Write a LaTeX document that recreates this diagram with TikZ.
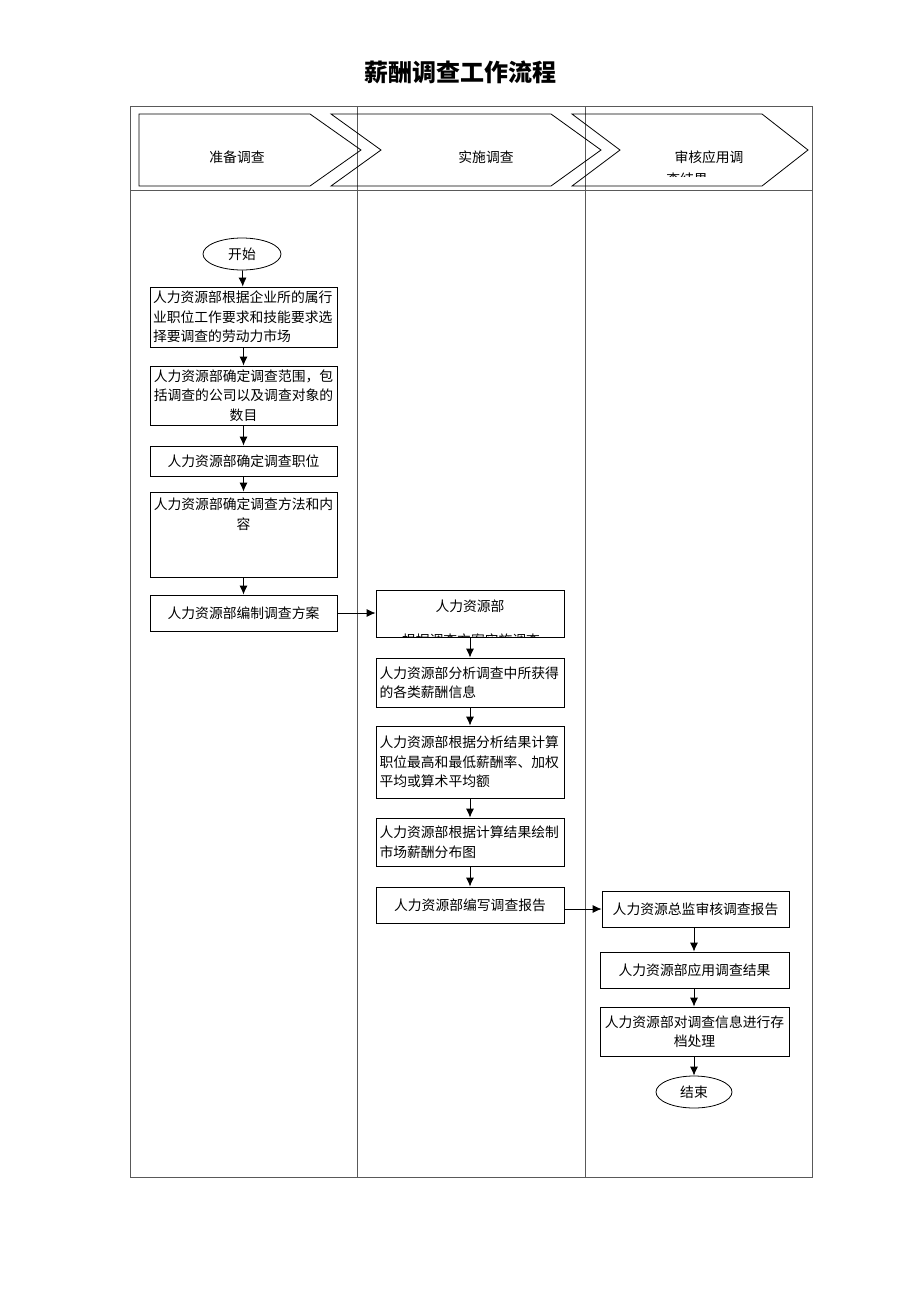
\documentclass[tikz,border=0pt]{standalone}
\usepackage{fontspec}
\setmainfont{Noto Sans CJK SC}
\usetikzlibrary{arrows.meta,shapes.geometric}
\begin{document}
\begin{tikzpicture}[x=1pt,y=-1pt,
  frame/.style={draw=black!65,line width=0.8pt},
  chev/.style={draw=black,line width=0.8pt},
  txt/.style={font=\fontsize{13.8}{19.5}\selectfont,inner sep=0pt},
  box/.style={draw=black,line width=0.8pt,minimum width=187pt,inner sep=3pt,text width=181pt,
    font=\fontsize{13.8}{19.5}\selectfont,align=left},
  cbox/.style={box,align=center},
  term/.style={draw=black,line width=0.8pt,ellipse,minimum width=78pt,minimum height=32pt,inner sep=0pt,
    font=\fontsize{13.8}{19.5}\selectfont},
  arr/.style={draw=black,line width=0.8pt,-{Latex[length=9pt,width=8pt]}}]
\useasboundingbox (0,0) rectangle (920,1302);
% title
\node[font=\fontsize{24}{28}\selectfont\bfseries] (title) at (460,72) {薪酬调查工作流程};
% frame
\draw[frame] (130,106) rectangle (812,1177);
\draw[frame] (357,106) -- (357,1177);
\draw[frame] (585,106) -- (585,1177);
\draw[frame] (130,190) -- (812,190);
% chevrons
\draw[chev] (139,114) -- (310,114) -- (361,150) -- (310,186) -- (139,186) -- cycle;
\draw[chev] (331,114) -- (551,114) -- (601,150) -- (551,186) -- (331,186) -- (381,150) -- cycle;
\draw[chev] (572,114) -- (762,114) -- (808,150) -- (762,186) -- (572,186) -- (620,150) -- cycle;
\node[txt] (h1) at (237,157) {准备调查};
\node[txt] (h2) at (486,157) {实施调查};
\node[txt] (h3) at (709,157) {审核应用调};
\begin{scope}
  \clip (572,114) rectangle (808,176);
  \node[txt] (h3b) at (687,179) {查结果};
\end{scope}
% column 1
\node[term] (start) at (242,254) {开始};
\node[box,minimum height=60pt] (b1) at (243.5,317) {人力资源部根据企业所的属行\\业职位工作要求和技能要求选\\择要调查的劳动力市场};
\node[cbox,minimum height=59pt] (b2) at (243.5,395.5) {人力资源部确定调查范围，包\\括调查的公司以及调查对象的\\数目};
\node[cbox,minimum height=30pt] (b3) at (243.5,461) {人力资源部确定调查职位};
\node[box,minimum height=85pt] (b4) at (243.5,534.5) {};
\node[txt,anchor=north,align=center] (b4t) at (243.5,498) {人力资源部确定调查方法和内\\容};
\node[cbox,minimum height=36pt] (b5) at (243.5,613) {人力资源部编制调查方案};
% column 2
\node[box,minimum height=47pt,minimum width=188pt] (b6) at (470,613.5) {};
\node[txt] (b6t) at (470,606) {人力资源部};
\begin{scope}
  \clip (376,590) rectangle (564,636);
  \node[txt] (b6u) at (471,640) {根据调查方案实施调查};
\end{scope}
\node[box,minimum height=49pt,minimum width=188pt] (b7) at (470,682.5) {人力资源部分析调查中所获得\\的各类薪酬信息};
\node[box,minimum height=72pt,minimum width=188pt] (b8) at (470,762) {人力资源部根据分析结果计算\\职位最高和最低薪酬率、加权\\平均或算术平均额};
\node[box,minimum height=48pt,minimum width=188pt] (b9) at (470,842) {人力资源部根据计算结果绘制\\市场薪酬分布图};
\node[cbox,minimum height=36pt,minimum width=188pt] (b10) at (470,905) {人力资源部编写调查报告};
% column 3
\node[cbox,minimum height=36pt] (b11) at (695.5,909) {人力资源总监审核调查报告};
\node[cbox,minimum height=36pt,minimum width=189pt] (b12) at (694.5,970) {人力资源部应用调查结果};
\node[cbox,minimum height=49pt,minimum width=189pt] (b13) at (694.5,1031.5) {人力资源部对调查信息进行存\\档处理};
\node[term,minimum width=76pt] (end) at (694,1092) {结束};
% arrows column 1
\draw[arr] (start) -- (b1);
\draw[arr] (b1) -- (b2);
\draw[arr] (b2) -- (b3);
\draw[arr] (b3) -- (b4);
\draw[arr] (b4) -- (b5);
\draw[arr] (b5) -- (b5 -| b6.west);
% column 2
\draw[arr] (b6) -- (b7);
\draw[arr] (b7) -- (b8);
\draw[arr] (b8) -- (b9);
\draw[arr] (b9) -- (b10);
\draw[arr] (b10.east |- b11) -- (b11.west);
% column 3
\draw[arr] (b11.south -| end) -- (b12.north -| end);
\draw[arr] (b12.south -| end) -- (b13.north -| end);
\draw[arr] (b13.south -| end) -- (end);
\end{tikzpicture}
\end{document}
